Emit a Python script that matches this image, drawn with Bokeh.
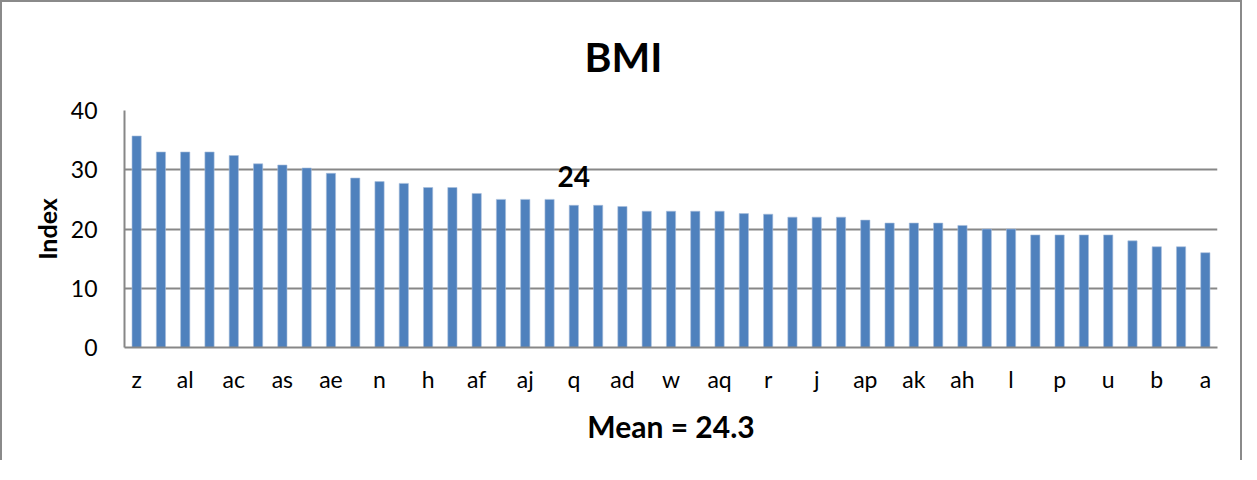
from bokeh.plotting import figure
from bokeh.models import ColumnDataSource, FixedTicker, Range1d, Title
from bokeh.core.properties import value
from bokeh.embed import file_html
from bokeh.resources import INLINE

categories = ["z", "y", "al", "am", "ac", "ab", "as", "ar", "ae", "ag",
              "n", "o", "h", "i", "af", "ai", "aj", "an", "q", "s",
              "ad", "aa", "w", "x", "aq", "ao", "r", "t", "j", "k",
              "ap", "m", "ak", "g", "ah", "f", "l", "v", "p", "e",
              "u", "d", "b", "c", "a"]
bmi = [35.7, 33, 33, 33, 32.4, 31, 30.8, 30.3, 29.4, 28.6,
       28, 27.7, 27, 27, 26, 25, 25, 25, 24, 24,
       23.8, 23, 23, 23, 23, 22.6, 22.5, 22, 22, 22,
       21.5, 21, 21, 21, 20.6, 20, 20, 19, 19, 19,
       19, 18, 17, 17, 16]
y_ticks = [0, 10, 20, 30, 40]
label_category = "q"
label_text = "24"
title_text = "BMI"
x_title = "Mean = 24.3"
y_title = "Index"

idx = list(range(len(categories)))
source = ColumnDataSource(dict(idx=idx, bmi=bmi, cat=categories))

FONT = "Lato"
GRAY = "#878787"

p = figure(width=1242, height=460, output_backend="svg", toolbar_location=None,
           x_range=Range1d(-0.5, len(categories) - 0.5), y_range=Range1d(0, 40),
           min_border_left=122, min_border_right=27, min_border_top=108,
           min_border_bottom=115,
           styles={"border-left": "2px solid #8a8a8a", "border-top": "2px solid #8a8a8a",
                   "border-right": "2px solid #8a8a8a"})
p.outline_line_color = None
p.background_fill_color = "white"
p.border_fill_color = "white"

p.vbar(x="idx", top="bmi", width=0.38, source=source, fill_color="#4f81bd",
       line_color="#a7bedc", line_width=0.6)

li = categories.index(label_category)
p.text(x=[li], y=[bmi[li]], text=[label_text], text_align="center",
       text_baseline="bottom", y_offset=-18, text_font=value(FONT),
       text_font_style="bold", text_font_size="28px", text_color="black")

# title
t = Title(text=title_text, align="left", offset=460, standoff=56,
          vertical_align="top",
          text_font=FONT, text_font_size="41px", text_font_style="bold",
          text_color="black")
p.title = t

# x axis
even = idx[::2]
p.xaxis.ticker = FixedTicker(ticks=even)
p.xaxis.major_label_overrides = {i: categories[i] for i in even}
p.xaxis.major_tick_line_color = None
p.xaxis.minor_tick_line_color = None
p.xaxis.axis_line_color = GRAY
p.xaxis.axis_line_width = 2
p.xaxis.major_label_text_font = FONT
p.xaxis.major_label_text_font_size = "23px"
p.xaxis.major_label_text_color = "black"
p.xaxis.major_label_standoff = 11
p.xaxis.axis_label = x_title
p.xaxis.axis_label_text_font = FONT
p.xaxis.axis_label_text_font_size = "30px"
p.xaxis.axis_label_text_font_style = "bold"
p.xaxis.axis_label_text_color = "black"
p.xaxis.axis_label_standoff = 12

# y axis
p.yaxis.ticker = FixedTicker(ticks=y_ticks)
p.yaxis.major_tick_line_color = None
p.yaxis.minor_tick_line_color = None
p.yaxis.axis_line_color = GRAY
p.yaxis.axis_line_width = 2
p.yaxis.major_label_text_font = FONT
p.yaxis.major_label_text_font_size = "23px"
p.yaxis.major_label_text_color = "black"
p.yaxis.major_label_standoff = 21
p.yaxis.axis_label = y_title
p.yaxis.axis_label_text_font = FONT
p.yaxis.axis_label_text_font_size = "25px"
p.yaxis.axis_label_text_font_style = "bold"
p.yaxis.axis_label_text_color = "black"
p.yaxis.axis_label_standoff = 6

p.xgrid.grid_line_color = None
p.ygrid.ticker = FixedTicker(ticks=y_ticks)
p.ygrid.grid_line_color = GRAY
p.ygrid.grid_line_width = 2

open("out.html", "w").write(file_html(p, INLINE))
